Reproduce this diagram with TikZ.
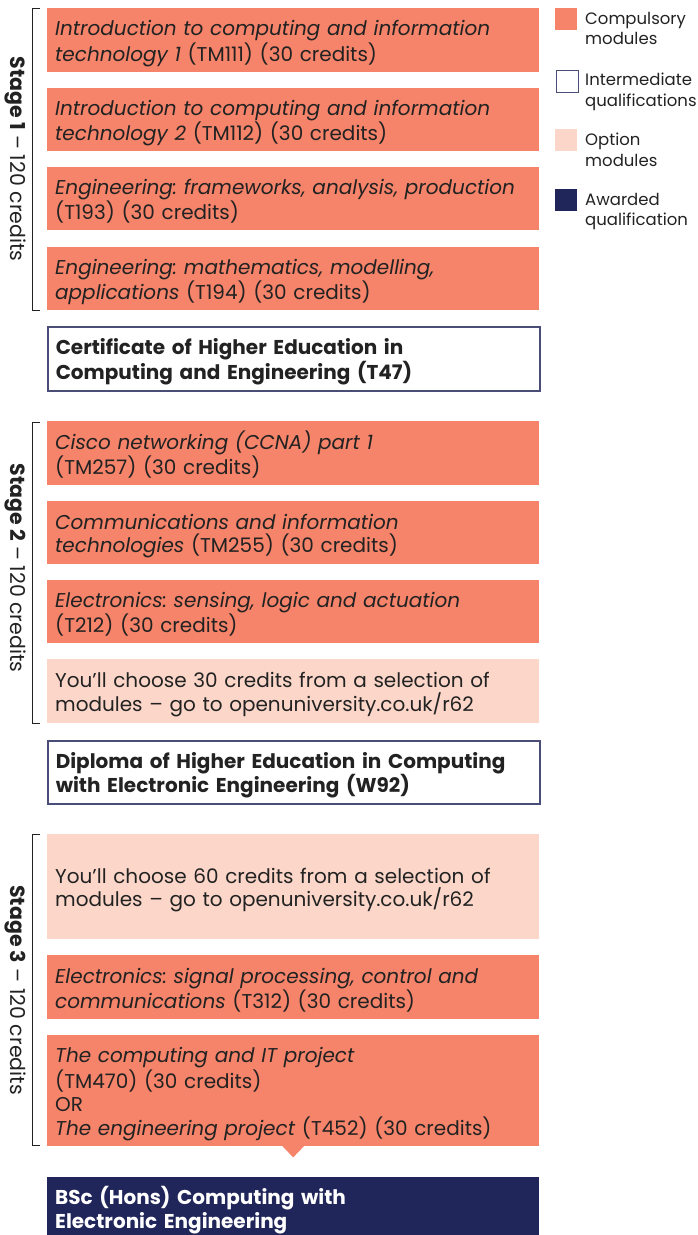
\documentclass[tikz,border=0pt]{standalone}
\usepackage{fontspec}
\setmainfont{Poppins}
\usetikzlibrary{calc}
\frenchspacing
\definecolor{comp}{HTML}{F5846A}
\definecolor{opt}{HTML}{FCD7C9}
\definecolor{navy}{HTML}{20255A}
\definecolor{frame}{HTML}{4A4D78}
\definecolor{ink}{HTML}{222222}
\tikzset{
  modbox/.style={anchor=north west, minimum width=492pt, text width=476pt, inner xsep=8pt, inner ysep=0pt, align=left, text=ink, font=\fontsize{20}{23.5}\selectfont,
    execute at begin node={\rule{0pt}{22pt}}, execute at end node={\rule[-5pt]{0pt}{0pt}}},
  compbox/.style={modbox, fill=comp},
  optbox/.style={modbox, fill=opt},
  qualbox/.style={modbox, fill=white, draw=frame, line width=1.5pt, font=\fontsize{20}{23.5}\selectfont\bfseries},
  awardbox/.style={modbox, fill=navy, text=white, font=\fontsize{20}{23.5}\selectfont\bfseries},
  bracket/.style={draw=ink, line width=1pt},
  stagelabel/.style={rotate=-90, text=ink, font=\fontsize{20.5}{24}\selectfont},
  legsq/.style={anchor=north west, minimum width=22pt, minimum height=22pt, inner sep=0pt},
  legtext/.style={anchor=north west, inner sep=0pt, align=left, text=ink, font=\fontsize{16.5}{20.5}\selectfont,
    execute at begin node={\rule{0pt}{16pt}}},
}
\begin{document}
\begin{tikzpicture}[x=1pt,y=-1pt]
\useasboundingbox (0,0) rectangle (698,1235);
\clip (0,0) rectangle (698,1235);
% Stage 1
\node[compbox, minimum height=64pt] (s1a) at (47,8) {\textit{Introduction to computing and information}\\\textit{technology 1} (TM111) (30 credits)};
\node[compbox, minimum height=63pt] (s1b) at (47,88) {\textit{Introduction to computing and information}\\\textit{technology 2} (TM112) (30 credits)};
\node[compbox, minimum height=63pt] (s1c) at (47,167) {\textit{Engineering: frameworks, analysis, production}\\(T193) (30 credits)};
\node[compbox, minimum height=63pt] (s1d) at (47,247) {\textit{Engineering: mathematics, modelling,}\\\textit{applications} (T194) (30 credits)};
\node[qualbox, minimum height=64pt] (cert) at (47,326) {Certificate of Higher Education in\\Computing and Engineering (T47)};
% Stage 2
\node[compbox, minimum height=64pt] (s2a) at (47,421) {\textit{Cisco networking (CCNA) part 1}\\(TM257) (30 credits)};
\node[compbox, minimum height=63pt] (s2b) at (47,501) {\textit{Communications and information}\\\textit{technologies} (TM255) (30 credits)};
\node[compbox, minimum height=63pt] (s2c) at (47,580) {\textit{Electronics: sensing, logic and actuation}\\(T212) (30 credits)};
\node[optbox, minimum height=64pt] (s2d) at (47,659) {You’ll choose 30 credits from a selection of\\modules – go to openuniversity.co.uk/r62};
\node[qualbox, minimum height=63pt] (dip) at (47,740) {Diploma of Higher Education in Computing\\with Electronic Engineering (W92)};
% Stage 3
\node[optbox, minimum height=105pt] (s3a) at (47,834) {You’ll choose 60 credits from a selection of\\modules – go to openuniversity.co.uk/r62};
\node[compbox, minimum height=64pt] (s3b) at (47,955) {\textit{Electronics: signal processing, control and}\\\textit{communications} (T312) (30 credits)};
\node[compbox, minimum height=111pt] (s3c) at (47,1035) {\textit{The computing and IT project}\\(TM470) (30 credits)\\OR\\\textit{The engineering project} (T452) (30 credits)};
\fill[comp] ($(s3c.south)+(-11,-0.5)$) -- ($(s3c.south)+(0,11)$) -- ($(s3c.south)+(11,-0.5)$) -- cycle;
\node[awardbox, minimum height=62.5pt] (bsc) at (47,1177) {BSc (Hons) Computing with\\Electronic Engineering};
% Brackets
\draw[bracket] (40,8) -- (32,8) -- (32,310) -- (40,310);
\draw[bracket] (40,422) -- (32,422) -- (32,723) -- (40,723);
\draw[bracket] (40,834) -- (32,834) -- (32,1145) -- (40,1145);
\node[stagelabel] (l1) at (15,159) {\textbf{Stage 1} – 120 credits};
\node[stagelabel] (l2) at (15,568) {\textbf{Stage 2} – 120 credits};
\node[stagelabel] (l3) at (15,990) {\textbf{Stage 3} – 120 credits};
% Legend
\node[legsq, fill=comp] (k1) at (555,8) {};
\node[legtext] (t1) at (585,12) {Compulsory\\modules};
\node[legsq, fill=white, draw=frame, line width=1.2pt] (k2) at (555.6,69.6) {};
\node[legtext] (t2) at (585,73) {Intermediate\\qualifications};
\node[legsq, fill=opt] (k3) at (555,129) {};
\node[legtext] (t3) at (585,133) {Option\\modules};
\node[legsq, fill=navy] (k4) at (555,189) {};
\node[legtext] (t4) at (585,193) {Awarded\\qualification};
\end{tikzpicture}
\end{document}
